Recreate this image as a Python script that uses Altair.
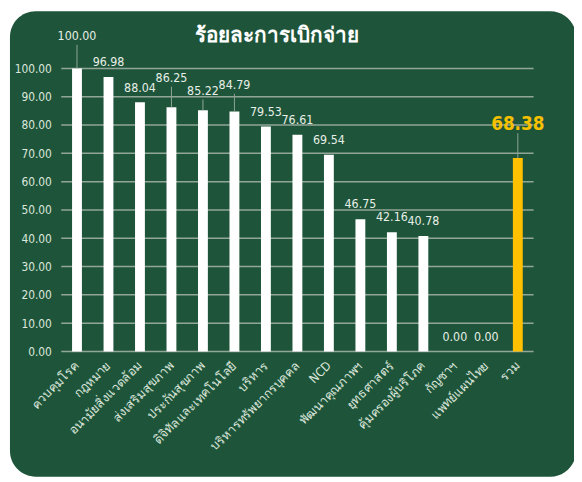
import altair as alt
import pandas as pd

categories = ["ควบคุมโรค", "กฎหมาย", "อนามัยสิ่งแวดล้อม", "ส่งเสริมสุขภาพ", "ประกันสุขภาพ",
              "ดิจิทัลและเทคโนโลยี", "บริหาร", "บริหารทรัพยากรบุคคล", "NCD", "พัฒนาคุณภาพฯ",
              "ยุทธศาสตร์", "คุ้มครองผู้บริโภค", "กัญชาฯ", "แพทย์แผนไทย", "รวม"]
values = [100.00, 96.98, 88.04, 86.25, 85.22, 84.79, 79.53, 76.61, 69.54, 46.75,
          42.16, 40.78, 0.00, 0.00, 68.38]
is_total = [False] * 14 + [True]
y_ticks = [0, 10, 20, 30, 40, 50, 60, 70, 80, 90, 100]

# label lift above the bar top, in pixels (annotation layout)
label_lift_px = [33, 15, 14, 30, 20, 27, 15, 15, 15, 15, 15, 15, 15, 15, 34]

W, H = 479, 287
PX_PER_UNIT = H / 100.0
GREEN = "#1e553a"
GOLD = "#ffc000"
FONT = "DejaVu Sans Condensed, Liberation Sans Narrow, Roboto, sans-serif"

df = pd.DataFrame({"cat": categories, "value": values, "total": is_total,
                   "lift": label_lift_px})
df["label"] = df["value"].map(lambda v: f"{v:.2f}")
df["label_y"] = df["value"] + df["lift"] / PX_PER_UNIT
df["lead_top"] = df["value"] + (df["lift"] - 9) / PX_PER_UNIT
df["lead"] = df["lift"] >= 20

grid_df = pd.DataFrame({"tick": y_ticks})

xaxis = alt.Axis(title=None, labelAngle=315, labelAlign="right", labelBaseline="middle",
                 labelColor="#dce6dc", labelFontSize=12.5, labelFont=FONT,
                 labelPadding=12, ticks=False, domain=False, grid=False,
                 labelLimit=200, labelOverlap=False, zindex=1)
yaxis = alt.Axis(title=None, values=y_ticks, format=".2f", labelColor="#dce6dc",
                 labelFontSize=12, labelFont=FONT, labelPadding=10, ticks=False,
                 domain=False, grid=False, labelOverlap=False, zindex=1)
xscale = alt.Scale(paddingInner=0.0, paddingOuter=0.0)
yscale = alt.Scale(domain=[0, 100], nice=False)


def X():
    return alt.X("cat:N", sort=categories, scale=xscale, axis=xaxis)


def Y(field):
    return alt.Y(field, scale=yscale, axis=yaxis)


bg = alt.Chart(pd.DataFrame({"a": [0]})).mark_rect(
    color=GREEN, cornerRadius=26
).encode(x=alt.value(-52), x2=alt.value(522), y=alt.value(-58), y2=alt.value(414))

grid = alt.Chart(grid_df).mark_rule(color="#92a698", strokeWidth=1.5).encode(
    y=Y("tick:Q"), x=alt.value(0), x2=alt.value(W)
)

bars = alt.Chart(df).mark_bar(size=10).encode(
    x=X(),
    y=Y("value:Q"),
    color=alt.condition("datum.total", alt.value(GOLD), alt.value("#ffffff")),
)

base = alt.Chart(df)

leads = base.transform_filter("datum.lead").mark_rule(color="#8fa596", strokeWidth=1).encode(
    x=X(), y=Y("value:Q"), y2="lead_top:Q"
)

labels = base.transform_filter("!datum.total").mark_text(
    color="#e8efe8", fontSize=12.5, font=FONT, baseline="middle"
).encode(x=X(), y=Y("label_y:Q"), text="label:N")

total_label = base.transform_filter("datum.total").mark_text(
    color="#f5c000", fontSize=19, font=FONT, fontWeight=600, baseline="middle"
).encode(x=X(), y=Y("label_y:Q"), text="label:N")

title = alt.Chart(pd.DataFrame({"t": ["ร้อยละการเบิกจ่าย"]})).mark_text(
    color="#ffffff", fontSize=21, fontWeight="bold", baseline="middle", align="center"
).encode(x=alt.value(219), y=alt.value(-33), text="t:N")

chart = alt.layer(bg, grid, bars, leads, labels, total_label, title).properties(
    width=W, height=H,
    autosize=alt.AutoSizeParams(type="none"),
    padding={"left": 54, "top": 58, "right": 41, "bottom": 124},
    background="#ffffff",
).configure_view(stroke=None)

chart.save("out.html", embed_options={"renderer": "svg", "actions": False})
